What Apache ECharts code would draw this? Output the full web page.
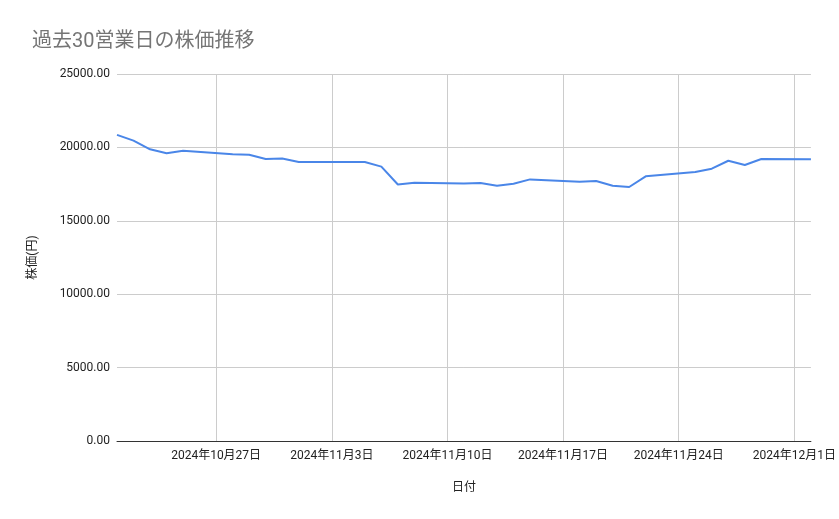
<!DOCTYPE html>
<html>
<head>
<meta charset="utf-8">
<script src="https://cdn.jsdelivr.net/npm/echarts@6/dist/echarts.min.js"></script>
<style>
  html, body { margin: 0; padding: 0; background: #fff; }
  #main { width: 839px; height: 519px; }
</style>
</head>
<body>
<div id="main"></div>
<script>
// 過去30営業日の終値
var dates = [
  '2024-10-21', '2024-10-22', '2024-10-23', '2024-10-24', '2024-10-25',
  '2024-10-28', '2024-10-29', '2024-10-30', '2024-10-31', '2024-11-01',
  '2024-11-05', '2024-11-06', '2024-11-07', '2024-11-08',
  '2024-11-11', '2024-11-12', '2024-11-13', '2024-11-14', '2024-11-15',
  '2024-11-18', '2024-11-19', '2024-11-20', '2024-11-21', '2024-11-22',
  '2024-11-25', '2024-11-26', '2024-11-27', '2024-11-28', '2024-11-29',
  '2024-12-02'
];
var prices = [
  20850, 20460, 19870, 19600, 19770,
  19530, 19500, 19210, 19250, 19000,
  19000, 18690, 17470, 17590,
  17540, 17570, 17390, 17520, 17820,
  17660, 17710, 17390, 17300, 18030,
  18320, 18550, 19090, 18800, 19210,
  19190
];
// 縦グリッド（毎週日曜）
var tickDates = ['2024-10-27', '2024-11-03', '2024-11-10', '2024-11-17', '2024-11-24', '2024-12-01'];

function toTime(s) {
  var p = s.split('-');
  return +new Date(+p[0], +p[1] - 1, +p[2]);
}

var seriesData = dates.map(function (d, i) { return [toTime(d), prices[i]]; });
var tickValues = tickDates.map(toTime);

var font = 'Roboto, "Noto Sans CJK JP", sans-serif';
var myChart = echarts.init(document.getElementById('main'));
var option = {
  animation: false,
  backgroundColor: '#ffffff',
  title: {
    text: '過去30営業日の株価推移',
    left: 27,
    top: 27,
    textStyle: { fontFamily: font, fontSize: 20, fontWeight: 'normal', color: '#757575' }
  },
  grid: { left: 117, right: 26, top: 74, bottom: 78 },
  xAxis: {
    type: 'value',
    min: toTime('2024-10-21'),
    max: toTime('2024-12-02'),
    name: '日付',
    nameLocation: 'middle',
    nameGap: 41,
    nameTextStyle: { fontFamily: font, fontSize: 12, color: '#222' },
    axisLine: { onZero: false, lineStyle: { color: '#333', width: 1 } },
    axisTick: { show: false, customValues: tickValues },
    axisLabel: {
      customValues: tickValues,
      fontFamily: font, fontSize: 12, color: '#222', margin: 9,
      formatter: function (v) {
        var d = new Date(v);
        return d.getFullYear() + '年' + (d.getMonth() + 1) + '月' + d.getDate() + '日';
      }
    },
    splitLine: { show: true, lineStyle: { color: '#cccccc', width: 1 } }
  },
  yAxis: {
    type: 'value',
    min: 0,
    max: 25000,
    interval: 5000,
    name: '株価(円)',
    nameLocation: 'middle',
    nameGap: 78,
    nameTextStyle: { fontFamily: font, fontSize: 12, color: '#222' },
    axisLine: { show: false },
    axisTick: { show: false },
    axisLabel: {
      fontFamily: font, fontSize: 12, color: '#222', margin: 7,
      formatter: function (v) { return v.toFixed(2); }
    },
    splitLine: { lineStyle: { color: '#cccccc', width: 1 } }
  },
  series: [{
    type: 'line',
    data: seriesData,
    showSymbol: false,
    lineStyle: { color: '#4a86e8', width: 2 },
    itemStyle: { color: '#4a86e8' }
  }]
};
myChart.setOption(option);
</script>
</body>
</html>
